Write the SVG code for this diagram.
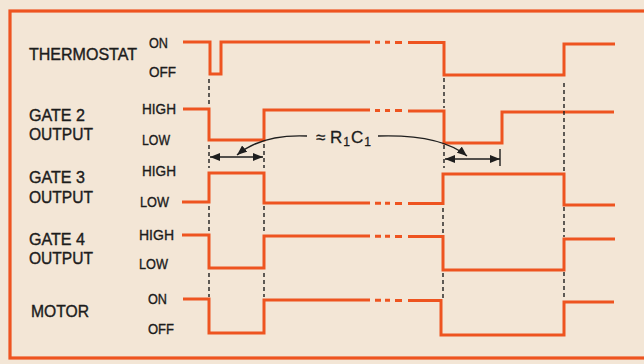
<svg xmlns="http://www.w3.org/2000/svg" width="644" height="364" viewBox="0 0 644 364">
<defs>
<style>
.bg{fill:#f3e6d6}
.frame{fill:none;stroke:#ee5420;stroke-width:3.2}
.tr{fill:none;stroke:#ee5420;stroke-width:3;stroke-linejoin:miter;stroke-linecap:butt}
.dsh{fill:none;stroke:#ee5420;stroke-width:3}
.guide{fill:none;stroke:#1e1e1e;stroke-width:1.4;stroke-dasharray:4 3}
.dim{fill:none;stroke:#1e1e1e;stroke-width:1.4}
.big{font-family:"Liberation Sans",Arial,sans-serif;font-size:17px;fill:#1c1c1c;stroke:#1c1c1c;stroke-width:0.4}
.sm{font-family:"Liberation Sans",Arial,sans-serif;font-size:14px;fill:#1c1c1c;stroke:#1c1c1c;stroke-width:0.35}
.lab{font-family:"Liberation Sans",Arial,sans-serif;font-size:17px;fill:#1c1c1c;stroke:#1c1c1c;stroke-width:0.3}
</style>
<marker id="ah" viewBox="0 0 10 8" refX="10" refY="4" markerWidth="10" markerHeight="8" markerUnits="userSpaceOnUse" orient="auto-start-reverse">
<path d="M0,0 L10,4 L0,8 Z" fill="#1e1e1e"/>
</marker>
</defs>
<rect class="bg" x="0" y="0" width="644" height="364"/>
<rect class="frame" x="10" y="11" width="640" height="347"/>

<g id="thermostat">
<text class="big" x="29" y="60" textLength="108" lengthAdjust="spacingAndGlyphs">THERMOSTAT</text>
<text class="sm" x="149" y="48" textLength="19" lengthAdjust="spacingAndGlyphs">ON</text>
<text class="sm" x="149" y="77" textLength="27" lengthAdjust="spacingAndGlyphs">OFF</text>
<path class="tr" d="M183,42 H210 V74 H221 V42 H370"/>
<path class="dsh" d="M375,42.3 H380 M385,42.3 H390 M395,42.4 H402"/>
<path class="tr" d="M408,42.5 H444 V75 H564 V44 H615"/>
</g>

<g id="gate2">
<text class="big" x="29" y="121" textLength="56" lengthAdjust="spacingAndGlyphs">GATE 2</text>
<text class="big" x="29" y="140" textLength="64" lengthAdjust="spacingAndGlyphs">OUTPUT</text>
<text class="sm" x="142" y="114" textLength="34" lengthAdjust="spacingAndGlyphs">HIGH</text>
<text class="sm" x="142" y="145" textLength="28" lengthAdjust="spacingAndGlyphs">LOW</text>
<path class="tr" d="M183,109 H209 V140 H264 V110 H370"/>
<path class="dsh" d="M375,110.5 H380 M385,110.5 H390 M395,110.6 H402"/>
<path class="tr" d="M408,111 H444 V143 H502 V112 H614"/>
</g>

<g id="gate3">
<text class="big" x="29" y="183" textLength="56" lengthAdjust="spacingAndGlyphs">GATE 3</text>
<text class="big" x="29" y="203" textLength="64" lengthAdjust="spacingAndGlyphs">OUTPUT</text>
<text class="sm" x="142" y="176" textLength="34" lengthAdjust="spacingAndGlyphs">HIGH</text>
<text class="sm" x="140" y="207" textLength="29" lengthAdjust="spacingAndGlyphs">LOW</text>
<path class="tr" d="M182,202 H209 V173 H264 V203 H370"/>
<path class="dsh" d="M375,203.3 H381 M385,203.3 H390 M395,203.4 H402"/>
<path class="tr" d="M408,203.5 H443 V174 H564 V205 H615"/>
</g>

<g id="gate4">
<text class="big" x="29" y="245" textLength="56" lengthAdjust="spacingAndGlyphs">GATE 4</text>
<text class="big" x="29" y="264" textLength="64" lengthAdjust="spacingAndGlyphs">OUTPUT</text>
<text class="sm" x="139" y="240" textLength="35" lengthAdjust="spacingAndGlyphs">HIGH</text>
<text class="sm" x="139" y="269" textLength="29" lengthAdjust="spacingAndGlyphs">LOW</text>
<path class="tr" d="M182,235 H209 V268 H264 V236 H370"/>
<path class="dsh" d="M375,236.3 H381 M385,236.3 H390 M395,236.4 H402"/>
<path class="tr" d="M408,236.5 H443 V270 H564 V239 H615"/>
</g>

<g id="motor">
<text class="big" x="31" y="317" textLength="58" lengthAdjust="spacingAndGlyphs">MOTOR</text>
<text class="sm" x="148" y="304" textLength="19" lengthAdjust="spacingAndGlyphs">ON</text>
<text class="sm" x="148" y="334" textLength="26" lengthAdjust="spacingAndGlyphs">OFF</text>
<path class="tr" d="M183,299 H209 V333 H264 V300 H370"/>
<path class="dsh" d="M375,300.3 H381 M385,300.3 H390 M395,300.4 H402"/>
<path class="tr" d="M408,300.5 H441 V335 H564 V302 H614"/>
</g>

<g id="rc-label">
<text class="lab" x="316" y="143">≈ R<tspan font-size="12" dy="3" dx="1">1</tspan><tspan dy="-3" dx="1">C</tspan><tspan font-size="12" dy="3" dx="1">1</tspan></text>
</g>

<g id="connectors">
<path class="guide" d="M209,79 V107 M209,145 V168 M209,206 V233 M209,273 V297"/>
<path class="guide" d="M264,144 V168 M264,206 V233 M264,273 V297"/>
<path class="guide" d="M444,78 V108 M444,145 V168 M443,208 V236 M443,273 V298"/>
<path class="guide" d="M564,83 V172 M564,207 V237 M564,272 V300"/>
<path class="dim" d="M500,149 V166"/>
<path class="dim" d="M210,157 H263" marker-start="url(#ah)" marker-end="url(#ah)"/>
<path class="dim" d="M445,159 H500" marker-start="url(#ah)" marker-end="url(#ah)"/>
<path class="dim" d="M307,136 Q262,134 237,155" marker-end="url(#ah)"/>
<path class="dim" d="M378,136 Q440,134 467,156" marker-end="url(#ah)"/>
</g>
</svg>
